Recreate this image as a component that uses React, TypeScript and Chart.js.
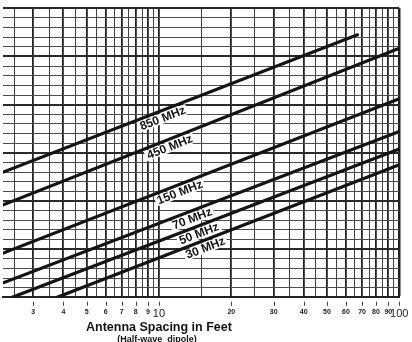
import React, { useEffect, useRef } from 'react';
import { Chart, registerables } from 'chart.js';

Chart.register(...registerables);

// Series (antenna isolation lines, one per frequency)
const seriesNames = ['850 MHz', '450 MHz', '150 MHz', '70 MHz', '50 MHz', '30 MHz'];
const spacingStart = [2.25, 2.25, 2.25, 2.25, 2.45, 3.77];
const spacingEnd = [67, 100, 100, 100, 100, 100];
const isolationStart = [26.0, 19.2, 9.2, 3.0, 0, 0];
const isolationEnd = [54.5, 51.7, 41.2, 34.4, 30.8, 27.5];
const labelAt = [10.1, 10.8, 11.9, 13.4, 14.3, 15.2];

// Axis
const gridValues = [
  2.5, 3, 3.5, 4, 4.5, 5, 5.5, 6, 6.5, 7, 7.5, 8, 8.5, 9, 9.5, 10,
  15, 20, 25, 30, 35, 40, 45, 50, 55, 60, 65, 70, 75, 80, 85, 90, 95, 100,
];
const tickLabels = [3, 4, 5, 6, 7, 8, 9, 10, 20, 30, 40, 50, 60, 70, 80, 90, 100];
const bigTickLabels = [10, 100];
const X_MIN = 2.244;
const X_MAX = 100;
const Y_MIN = 0;
const Y_MAX = 60;
const Y_STEP = 2;

const axisTitle = 'Antenna Spacing in Feet';
const axisSubtitle = '(Half-wave  dipole)';

const FONT = '"Liberation Sans", Arial, Helvetica, sans-serif';
const INK = '#141414';

const isMajorX = (v: number) => (v < 10 ? Number.isInteger(v) : v % 10 === 0);

const decorPlugin = {
  id: 'decor',
  afterDatasetsDraw(chart: any) {
    const { ctx } = chart;
    const xs = chart.scales.x;
    const ys = chart.scales.y;
    ctx.save();
    ctx.font = `bold 12px ${FONT}`;
    seriesNames.forEach((name, i) => {
      const x0 = xs.getPixelForValue(spacingStart[i]);
      const y0 = ys.getPixelForValue(isolationStart[i]);
      const x1 = xs.getPixelForValue(spacingEnd[i]);
      const y1 = ys.getPixelForValue(isolationEnd[i]);
      const angle = Math.atan2(y1 - y0, x1 - x0);
      const px = xs.getPixelForValue(labelAt[i]);
      const t = (px - x0) / (x1 - x0);
      const py = y0 + t * (y1 - y0);
      ctx.save();
      ctx.translate(px, py);
      ctx.rotate(angle);
      const w = ctx.measureText(name).width;
      ctx.fillStyle = '#ffffff';
      ctx.fillRect(-w / 2 - 2, 2.2, w + 4, 10.5);
      ctx.fillStyle = INK;
      ctx.textAlign = 'center';
      ctx.textBaseline = 'middle';
      ctx.fillText(name, 0, 7.8);
      ctx.restore();
    });
    ctx.restore();
  },
  afterDraw(chart: any) {
    const { ctx, chartArea } = chart;
    const xs = chart.scales.x;
    ctx.save();
    // small tick marks below the axis
    ctx.strokeStyle = '#444';
    ctx.lineWidth = 1;
    tickLabels.forEach((v) => {
      const px = Math.round(xs.getPixelForValue(v)) + 0.5;
      ctx.beginPath();
      ctx.moveTo(px, chartArea.bottom + 4.5);
      ctx.lineTo(px, chartArea.bottom + 8.5);
      ctx.stroke();
    });
    // axis titles centred under the value 10
    const cx = xs.getPixelForValue(10);
    ctx.fillStyle = INK;
    ctx.textAlign = 'center';
    ctx.textBaseline = 'alphabetic';
    ctx.font = `bold 12.5px ${FONT}`;
    ctx.fillText(axisTitle, cx, 331);
    ctx.font = `bold 9px ${FONT}`;
    ctx.fillText(axisSubtitle, cx - 2, 341.5);
    ctx.restore();
  },
};

export default function App() {
  const ref = useRef<HTMLCanvasElement>(null);

  useEffect(() => {
    const canvas = ref.current;
    if (!canvas) return;
    const chart = new Chart(canvas, {
      type: 'line',
      data: {
        datasets: seriesNames.map((name, i) => ({
          label: name,
          data: [
            { x: spacingStart[i], y: isolationStart[i] },
            { x: spacingEnd[i], y: isolationEnd[i] },
          ],
          borderColor: INK,
          borderWidth: 3.2,
          pointRadius: 0,
          fill: false,
          tension: 0,
          borderCapStyle: 'round',
        })),
      },
      options: {
        animation: false,
        responsive: false,
        devicePixelRatio: 1,
        layout: { padding: { left: 3, right: 12.7, top: 8.3, bottom: 0 } },
        plugins: {
          legend: { display: false },
          tooltip: { enabled: false },
          title: { display: false },
        },
        scales: {
          x: {
            type: 'logarithmic',
            min: X_MIN,
            max: X_MAX,
            afterBuildTicks: (axis: any) => {
              axis.ticks = gridValues.map((v) => ({ value: v }));
            },
            afterFit: (axis: any) => {
              axis.height = 44.7;
              axis.paddingLeft = 0;
              axis.paddingRight = 0;
            },
            border: { display: true, color: '#222', width: 2 },
            grid: {
              drawTicks: false,
              color: (c: any) => (c.tick && isMajorX(c.tick.value) ? '#222' : '#444'),
              lineWidth: (c: any) => {
                if (!c.tick) return 1;
                if (c.tick.value === 100) return 2.5;
                return isMajorX(c.tick.value) ? 1.8 : 1;
              },
            },
            ticks: {
              autoSkip: false,
              maxRotation: 0,
              minRotation: 0,
              padding: 10.5,
              color: '#222',
              callback: (value: any) => (tickLabels.includes(Number(value)) ? String(value) : ''),
              font: (c: any) =>
                c.tick && bigTickLabels.includes(c.tick.value)
                  ? { family: FONT, size: 11, weight: 'normal' }
                  : { family: FONT, size: 7, weight: 'bold' },
            },
          },
          y: {
            type: 'linear',
            min: Y_MIN,
            max: Y_MAX,
            afterFit: (axis: any) => {
              axis.width = 0;
              axis.paddingTop = 0;
              axis.paddingBottom = 0;
            },
            border: { display: false },
            grid: {
              drawTicks: false,
              color: (c: any) => (c.tick && c.tick.value % 10 === 0 ? '#2a2a2a' : '#4d4d4d'),
              lineWidth: (c: any) => (c.tick && c.tick.value % 10 === 0 ? 2 : 1),
            },
            ticks: { display: false, stepSize: Y_STEP },
          },
        },
      },
      plugins: [decorPlugin],
    } as any);
    return () => chart.destroy();
  }, []);

  return (
    <div style={{ position: 'fixed', left: 0, top: 0, width: 412, height: 342, background: '#fff' }}>
      <canvas ref={ref} width={412} height={342} style={{ display: 'block' }} />
    </div>
  );
}
